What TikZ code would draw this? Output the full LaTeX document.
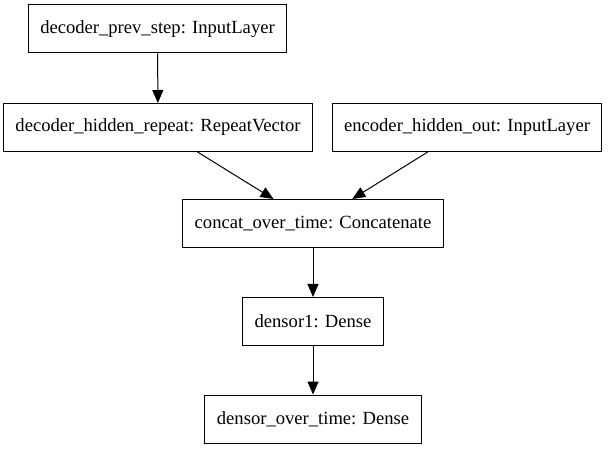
\documentclass[tikz,border=0pt]{standalone}
\usepackage{fontspec}
\setmainfont{Liberation Serif}
\usepackage{tikz}
\usetikzlibrary{arrows.meta}

\begin{document}
\begin{tikzpicture}[x=1pt, y=-1pt,
    layer/.style={shape=rectangle, draw, line width=1pt, minimum height=48pt, inner xsep=12pt,
        font=\fontsize{18.6}{22}\selectfont},
    wire/.style={line width=1pt, -{Triangle[length=13pt, width=11pt]}}]
    		% Paths, nodes and wires:
    		\useasboundingbox (0, 0) rectangle (608, 449);
    		\node[layer](L1) at (157.5, 29){decoder\_prev\_step: InputLayer};
    		\node[layer](L2) at (158, 127.5){decoder\_hidden\_repeat: RepeatVector};
    		\node[layer](L3) at (467, 127.5){encoder\_hidden\_out: InputLayer};
    		\node[layer](L4) at (313, 223.5){concat\_over\_time: Concatenate};
    		\node[layer](L5) at (313, 321.5){densor1: Dense};
    		\node[layer](L6) at (313, 419){densor\_over\_time: Dense};
    		\draw[wire] (L1) -- (L2);
    		\draw[wire] (L2) -- (L4);
    		\draw[wire] (L3) -- (L4);
    		\draw[wire] (L4) -- (L5);
    		\draw[wire] (L5) -- (L6);
    	\end{tikzpicture}
\end{document}
